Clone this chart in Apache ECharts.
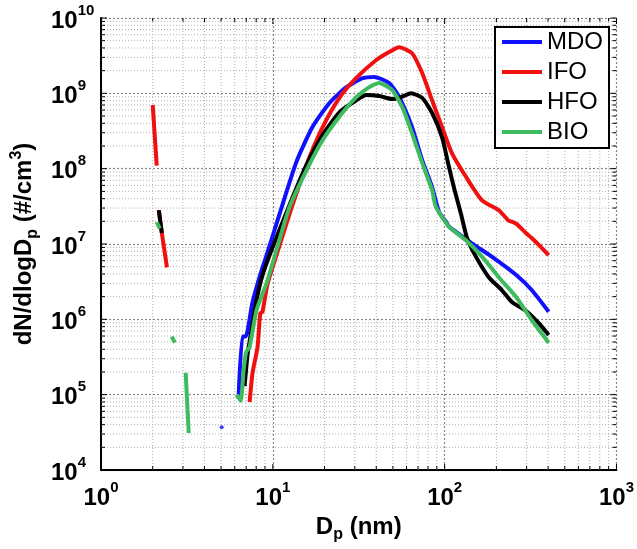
<!DOCTYPE html>
<html><head><meta charset="utf-8">
<script src="https://cdn.jsdelivr.net/npm/echarts@6/dist/echarts.min.js"></script>
<style>html,body{margin:0;padding:0;background:#fff}#c{width:637px;height:549px}</style>
</head><body><div id="c"></div>
<script>
// ---- data ----
const xDecades = [1, 10, 100, 1000];
const yDecades = [1e4, 1e5, 1e6, 1e7, 1e8, 1e9, 1e10];
const seriesNames = ['MDO', 'IFO', 'HFO', 'BIO'];
const GAP = ['-', '-'];

const MDO = [
  [6.32, 9.3e4], [6.65, 5.9e5], [6.95, 5.9e5], [7.6, 1.65e6], [8.37, 3.65e6], [9.32, 7.8e6],
  [10.9, 2.43e7], [13.7, 1.22e8], [17, 3.57e8], [21.3, 7.4e8], [26.8, 1.21e9], [33.1, 1.58e9],
  [38.9, 1.65e9], [47.5, 1.37e9], [54.4, 8.9e8], [64.6, 3.55e8], [74, 1.3e8], [84.5, 5.7e7],
  [92.8, 2.66e7], [102, 1.96e7], [106, 1.7e7], [144, 1.02e7], [188, 6.8e6], [260, 3.9e6],
  [321, 2.45e6], [403, 1.26e6]
];
const MDO_point = [[5.04, 3.7e4]];

const IFO = [
  [2.0, 7.0e8], [2.11, 1.1e8], GAP,
  [2.17, 2.8e7], [2.26, 1.4e7], [2.42, 4.9e6], GAP,
  [7.33, 8.0e4], [7.62, 1.95e5], [8.15, 4.3e5], [8.45, 1.2e6], [8.7, 1.25e6], [9.3, 2.9e6],
  [10.37, 6.5e6], [12.5, 2.5e7], [15.7, 1.12e8], [19.4, 3.47e8], [24.4, 8.7e8], [30.6, 1.6e9],
  [40, 2.77e9], [47.5, 3.54e9], [54.4, 4.1e9], [64.6, 3.4e9], [74, 1.86e9],
  [84.5, 8.1e8], [96.6, 3.55e8], [110, 1.62e8], [133, 7.8e7], [165, 3.8e7], [207, 2.8e7],
  [235, 2.05e7], [250, 1.95e7], [262, 1.85e7], [297, 1.4e7], [321, 1.2e7], [367, 8.9e6], [403, 7.1e6]
];

const HFO = [
  [2.17, 2.8e7], [2.26, 1.4e7], GAP,
  [6.85, 1.3e5], [7.13, 3.4e5], [7.43, 6.2e5], [7.94, 1.55e6], [8.6, 3.5e6], [9.57, 7.1e6],
  [12.5, 3.3e7], [15.7, 1.12e8], [19.5, 2.8e8], [24.4, 5.6e8], [30.6, 8.1e8], [35, 9.5e8],
  [41.6, 9.2e8], [49.5, 8.4e8], [54.4, 8.7e8], [63.8, 1.0e9], [74, 8.7e8], [84.5, 5.5e8],
  [96.6, 2.6e8], [106, 1.05e8], [113.5, 5.5e7], [124.5, 2.5e7], [135, 1.2e7], [152, 6.8e6],
  [181, 3.6e6], [215, 2.45e6], [246, 1.7e6], [297, 1.3e6], [353, 8.9e5], [403, 6.2e5]
];

const BIO = [
  [2.11, 1.95e7], [2.2, 1.6e7], GAP,
  [2.58, 5.9e5], [2.69, 4.9e5], GAP,
  [3.11, 1.95e5], [3.24, 3.1e4], GAP,
  [6.15, 1.0e5], [6.5, 8.3e4], [6.76, 2.1e5], [7.0, 3.7e5], [7.33, 4.3e5], [8.04, 1.33e6],
  [9.19, 3.0e6], [10.1, 6.1e6], [12.5, 3.1e7], [15.7, 9.5e7], [19.5, 2.4e8],
  [24.4, 4.9e8], [30.6, 8.9e8], [36.4, 1.21e9], [41.6, 1.37e9], [49.5, 1.1e9], [56.6, 6.6e8],
  [64.6, 2.95e8], [74, 1.19e8], [84.5, 5.2e7], [89, 3.1e7], [106, 1.7e7], [133, 1.12e7],
  [165, 6.8e6], [207, 3.6e6], [260, 2.0e6], [321, 9.8e5], [403, 4.9e5]
];

const colors = { MDO: '#1010ff', IFO: '#f01010', HFO: '#000000', BIO: '#3dbb5e' };
const seriesData = { MDO, IFO, HFO, BIO };

// ---- helpers ----
const FONT = "'Liberation Sans', Arial, Helvetica, sans-serif";
const xMin = xDecades[0], xMax = xDecades[xDecades.length - 1];
const yMin = yDecades[0], yMax = yDecades[yDecades.length - 1];
function subDivisions(decades) {
  const out = [];
  for (let i = 0; i < decades.length - 1; i++) {
    for (let m = 1; m <= 9; m++) out.push(decades[i] * m);
  }
  out.push(decades[decades.length - 1]);
  return out;
}
function isDecade(v) {
  const l = Math.log10(v);
  return Math.abs(l - Math.round(l)) < 1e-6;
}
function gridSeries(kind, vals) {
  return {
    type: 'custom', silent: true, z: 1,
    data: vals.map(v => kind === 'v' ? [v, yMin] : [xMin, v]),
    encode: { x: 0, y: 1 },
    renderItem: function (params, api) {
      const v = api.value(kind === 'v' ? 0 : 1);
      const major = isDecade(v);
      let a, b;
      if (kind === 'v') { a = api.coord([v, yMin]); b = api.coord([v, yMax]); }
      else { a = api.coord([xMin, v]); b = api.coord([xMax, v]); }
      const children = [];
      if (!major) {
        children.push({ type: 'line', shape: { x1: a[0], y1: a[1], x2: b[0], y2: b[1] },
          style: { stroke: '#b0b0b0', lineWidth: 1, lineDash: [1, 2] } });
      }
      const tl = major ? 6 : 4;
      const ts = { stroke: '#000', lineWidth: 1 };
      if (kind === 'v') {
        children.push({ type: 'line', shape: { x1: a[0], y1: a[1], x2: a[0], y2: a[1] - tl }, style: ts });
        children.push({ type: 'line', shape: { x1: b[0], y1: b[1], x2: b[0], y2: b[1] + tl }, style: ts });
      } else {
        children.push({ type: 'line', shape: { x1: a[0], y1: a[1], x2: a[0] + tl, y2: a[1] }, style: ts });
        children.push({ type: 'line', shape: { x1: b[0], y1: b[1], x2: b[0] - tl, y2: b[1] }, style: ts });
      }
      return { type: 'group', children };
    }
  };
}
function powLabel(v) {
  return '{b|10}{s|' + Math.round(Math.log10(v)) + '}';
}
const labelRich = {
  b: { fontSize: 24, fontWeight: 'bold', fontFamily: FONT, color: '#000', lineHeight: 30, verticalAlign: 'bottom' },
  s: { fontSize: 15, fontWeight: 'bold', fontFamily: FONT, color: '#000', lineHeight: 30, verticalAlign: 'top' }
};
const nameRich = {
  a: { fontSize: 24, fontWeight: 'bold', fontFamily: FONT, color: '#000', lineHeight: 32, verticalAlign: 'middle' },
  d: { fontSize: 16, fontWeight: 'bold', fontFamily: FONT, color: '#000', lineHeight: 32, verticalAlign: 'bottom' },
  u: { fontSize: 16, fontWeight: 'bold', fontFamily: FONT, color: '#000', lineHeight: 32, verticalAlign: 'top' }
};

const series = [
  gridSeries('v', subDivisions(xDecades)),
  gridSeries('h', subDivisions(yDecades))
];
seriesNames.forEach((n, i) => {
  series.push({
    name: n, type: 'line', data: seriesData[n], showSymbol: false, symbol: 'none',
    smooth: 0.2, connectNulls: false, z: 3 + i,
    color: colors[n],
    lineStyle: { color: colors[n], width: 4, cap: 'butt', join: 'round' }
  });
});
series.push({
  name: 'MDO_point', type: 'scatter', data: MDO_point, symbol: 'circle', symbolSize: 4,
  itemStyle: { color: colors.MDO }, z: 3, silent: true
});

const option = {
  animation: false,
  backgroundColor: '#fff',
  grid: { left: 101, right: 19, top: 18, bottom: 79, containLabel: false },
  legend: {
    data: seriesNames, orient: 'vertical', left: 495, top: 27,
    icon: 'rect', itemWidth: 40, itemHeight: 4, itemGap: 6,
    padding: [3, 6, 4, 7], borderColor: '#000', borderWidth: 2, backgroundColor: '#fff',
    textStyle: { fontSize: 24, fontFamily: FONT, color: '#000', lineHeight: 24 }
  },
  xAxis: {
    type: 'log', logBase: 10, min: xMin, max: xMax, splitNumber: 3,
    name: '{a|D}{d|p}{a| (nm)}', nameLocation: 'middle', nameGap: 36,
    nameTextStyle: { rich: nameRich },
    axisLine: { show: true, lineStyle: { color: '#000', width: 2 } },
    axisTick: { show: false },
    axisLabel: { formatter: powLabel, rich: labelRich, margin: 10 },
    splitLine: { show: true, lineStyle: { color: '#858585', width: 1.2, type: [2, 2] } },
    minorTick: { show: false }
  },
  yAxis: {
    type: 'log', logBase: 10, min: yMin, max: yMax, splitNumber: 6,
    name: '{a|dN/dlogD}{d|p}{a| (#/cm}{u|3}{a|)}', nameLocation: 'middle', nameGap: 56, nameRotate: 90,
    nameTextStyle: { rich: nameRich },
    axisLine: { show: true, lineStyle: { color: '#000', width: 2 } },
    axisTick: { show: false },
    axisLabel: { formatter: powLabel, rich: labelRich, margin: 50, align: 'left' },
    splitLine: { show: true, lineStyle: { color: '#858585', width: 1.2, type: [2, 2] } }
  },
  series: series
};
const chart = echarts.init(document.getElementById('c'), null, { renderer: 'canvas' });
chart.setOption(option);
</script></body></html>
